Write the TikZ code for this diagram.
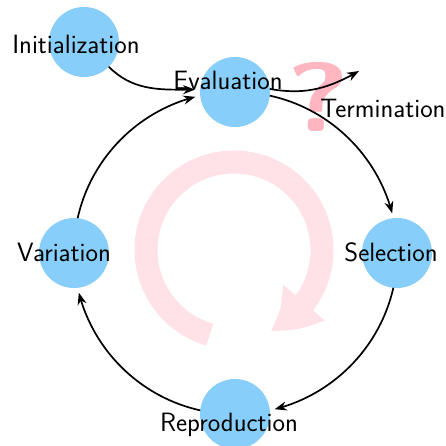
\documentclass[tikz,border=0pt]{standalone}
\usepackage{xcolor}
\usetikzlibrary{arrows.meta, bending}

\definecolor{stageblue}{RGB}{135,206,250}
\definecolor{looppink}{RGB}{255,226,231}
\definecolor{askpink}{RGB}{255,182,193}

\begin{document}
\begin{tikzpicture}[x=1pt, y=-1pt,
    stage/.style={circle, fill=stageblue, minimum size=70pt, inner sep=0pt, outer sep=0pt},
    word/.style={font=\fontsize{26.5}{30}\selectfont\sffamily, inner sep=0pt},
    flow/.style={line width=1.7pt, -{Stealth[length=12pt, width=9pt]}},
    roundflow/.style={flow, shorten >=5pt, bend left=32.5, looseness=0.92}]
    \useasboundingbox (0,0) rectangle (445,446);

    % background loop and question mark
    \draw[looppink, line width=23pt, -{Triangle[length=45pt, width=51pt, bend]}]
        (234,250) ++(-254:88) arc[start angle=-254, end angle=66, radius=88];
    \node[askpink, font=\fontsize{98}{98}\selectfont\sffamily\bfseries, inner sep=0pt, xscale=1.25] (ask) at (318,97) {?};

    \node[stage] (init) at (84,42) {};
    \node[stage] (eval) at (235,92) {};
    \node[stage] (sel) at (397,253) {};
    \node[stage] (repro) at (235,414) {};
    \node[stage] (var) at (74,253) {};
    \coordinate (stop) at (359,71);

    \draw[flow, shorten >=5pt] (init) to[out=-45, in=180] (eval.176);
    \draw[flow] (eval.5) to[out=-10, in=210] (stop);
    \draw[roundflow] (eval.-6) to (sel.96);
    \draw[roundflow] (sel.-96) to (repro.6);
    \draw[roundflow] (repro.174) to (var.-84);
    \draw[roundflow] (var.84) to (eval.186);

    \node[word] (init-text) at (76,44) {Initialization};
    \node[word] (eval-text) at (228,80) {Evaluation};
    \node[word] (sel-text) at (391,252) {Selection};
    \node[word] (repro-text) at (229,425) {Reproduction};
    \node[word] (var-text) at (64,252) {Variation};
    \node[word] (term-text) at (383,108) {Termination};
\end{tikzpicture}
\end{document}
